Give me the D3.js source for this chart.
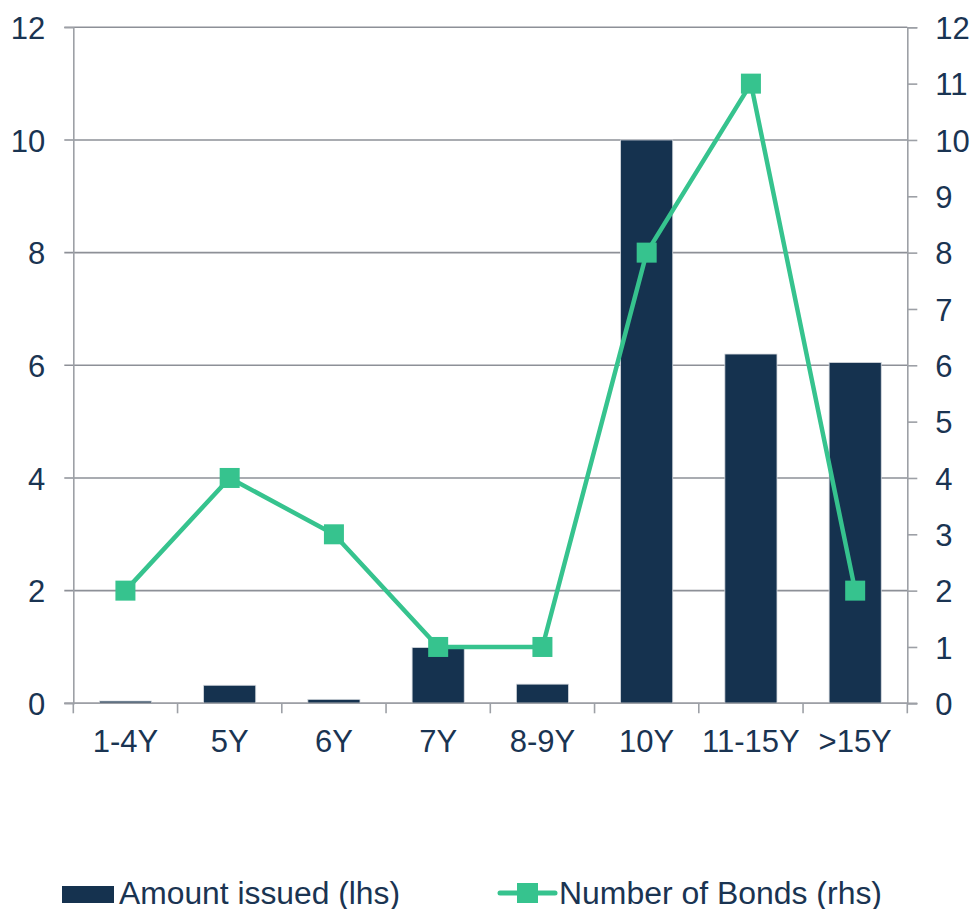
<!DOCTYPE html>
<html>
<head>
<meta charset="utf-8">
<script src="https://cdn.jsdelivr.net/npm/d3@7"></script>
<style>
  body { margin: 0; background: #fff; }
  svg text { font-family: "Liberation Sans", Arial, sans-serif; fill: #1a3452; }
</style>
</head>
<body>
<svg id="chart" width="972" height="909"></svg>
<script>
// chart data
const categories = ['1-4Y', '5Y', '6Y', '7Y', '8-9Y', '10Y', '11-15Y', '>15Y'];
const amountIssued = [0.04, 0.32, 0.07, 0.99, 0.34, 10.0, 6.2, 6.05];
const numberOfBonds = [2, 4, 3, 1, 1, 8, 11, 2];
const leftTicks = [0, 2, 4, 6, 8, 10, 12];
const rightTicks = [0, 1, 2, 3, 4, 5, 6, 7, 8, 9, 10, 11, 12];

// style variables
let barColor = '#15324f',
    lineColor = '#36c38e',
    gridColor = '#8d9097',
    axisColor = '#9da0a6',
    fontSize = 31;

const svg = d3.select('#chart');

let plotLeft = 73.3,
    plotRight = 907.3,
    plotTop = 27.3,
    plotBottom = 703.3;

let x = d3.scaleBand().domain(categories).range([plotLeft, plotRight]).padding(0.5).paddingOuter(0.25);
let yL = d3.scaleLinear().domain([0, 12]).range([plotBottom, plotTop]);
let yR = d3.scaleLinear().domain([0, 12]).range([plotBottom, plotTop]);

// gridlines
svg.append('g')
  .selectAll('line')
  .data(leftTicks)
  .join('line')
  .attr('x1', plotLeft - 9)
  .attr('x2', plotRight)
  .attr('y1', d => yL(d))
  .attr('y2', d => yL(d))
  .attr('stroke', gridColor)
  .attr('stroke-width', 1.6);

// left axis
let gL = svg.append('g').attr('transform', `translate(${plotLeft},0)`)
  .call(d3.axisLeft(yL).tickValues(leftTicks).tickSize(9).tickPadding(19));
gL.select('.domain').attr('stroke', axisColor).attr('stroke-width', 1.6);
gL.selectAll('.tick line').remove();
gL.selectAll('text').attr('font-size', fontSize).attr('dy', '0.36em')
  .style('font-family', '"Liberation Sans", Arial, sans-serif').attr('fill', '#1a3452');

// right axis
let gR = svg.append('g').attr('transform', `translate(${plotRight},0)`)
  .call(d3.axisRight(yR).tickValues(rightTicks).tickSize(10).tickPadding(18));
gR.select('.domain').attr('stroke', axisColor).attr('stroke-width', 1.6);
gR.selectAll('.tick line').attr('stroke', axisColor).attr('stroke-width', 1.6);
gR.selectAll('text').attr('font-size', fontSize).attr('dy', '0.36em')
  .style('font-family', '"Liberation Sans", Arial, sans-serif').attr('fill', '#1a3452');

// bars
svg.append('g')
  .selectAll('rect')
  .data(categories)
  .join('rect')
  .attr('x', d => x(d))
  .attr('width', x.bandwidth())
  .attr('y', (d, i) => yL(amountIssued[i]))
  .attr('height', (d, i) => yL(0) - yL(amountIssued[i]))
  .attr('fill', barColor)
  .attr('stroke', '#d5d9de')
  .attr('stroke-width', 0.8);

// bottom axis
let step = x.step();
let gB = svg.append('g').attr('transform', `translate(0,${plotBottom})`);
gB.append('line')
  .attr('x1', plotLeft - 9).attr('x2', plotRight + 10)
  .attr('stroke', axisColor).attr('stroke-width', 1.6);
gB.selectAll('.tk')
  .data(d3.range(categories.length + 1))
  .join('line')
  .attr('class', 'tk')
  .attr('x1', i => plotLeft + i * step)
  .attr('x2', i => plotLeft + i * step)
  .attr('y1', 0).attr('y2', 10)
  .attr('stroke', axisColor).attr('stroke-width', 1.6);
gB.selectAll('text')
  .data(categories)
  .join('text')
  .attr('x', d => x(d) + x.bandwidth() / 2)
  .attr('y', 49)
  .attr('text-anchor', 'middle')
  .attr('font-size', fontSize)
  .text(d => d);

// line series
let cx = d => x(d) + x.bandwidth() / 2;
svg.append('path')
  .datum(categories)
  .attr('d', d3.line().x(cx).y((d, i) => yR(numberOfBonds[i])))
  .attr('fill', 'none')
  .attr('stroke', lineColor)
  .attr('stroke-width', 4.5)
  .attr('stroke-linejoin', 'round');
svg.append('g')
  .selectAll('rect')
  .data(categories)
  .join('rect')
  .attr('x', d => cx(d) - 10)
  .attr('y', (d, i) => yR(numberOfBonds[i]) - 10)
  .attr('width', 20)
  .attr('height', 20)
  .attr('fill', lineColor);

// legend
let lg = svg.append('g');
lg.append('rect').attr('x', 62).attr('y', 886).attr('width', 52).attr('height', 17).attr('fill', barColor);
lg.append('text').attr('x', 119).attr('y', 903.5).attr('font-size', fontSize)
  .attr('textLength', 281).attr('lengthAdjust', 'spacingAndGlyphs').text('Amount issued (lhs)');
lg.append('line').attr('x1', 500).attr('x2', 555).attr('y1', 893).attr('y2', 893)
  .attr('stroke', lineColor).attr('stroke-width', 5).attr('stroke-linecap', 'round');
lg.append('rect').attr('x', 517).attr('y', 883).attr('width', 21).attr('height', 20).attr('fill', lineColor);
lg.append('text').attr('x', 559).attr('y', 903.5).attr('font-size', fontSize)
  .attr('textLength', 323).attr('lengthAdjust', 'spacingAndGlyphs').text('Number of Bonds (rhs)');
</script>
</body>
</html>
